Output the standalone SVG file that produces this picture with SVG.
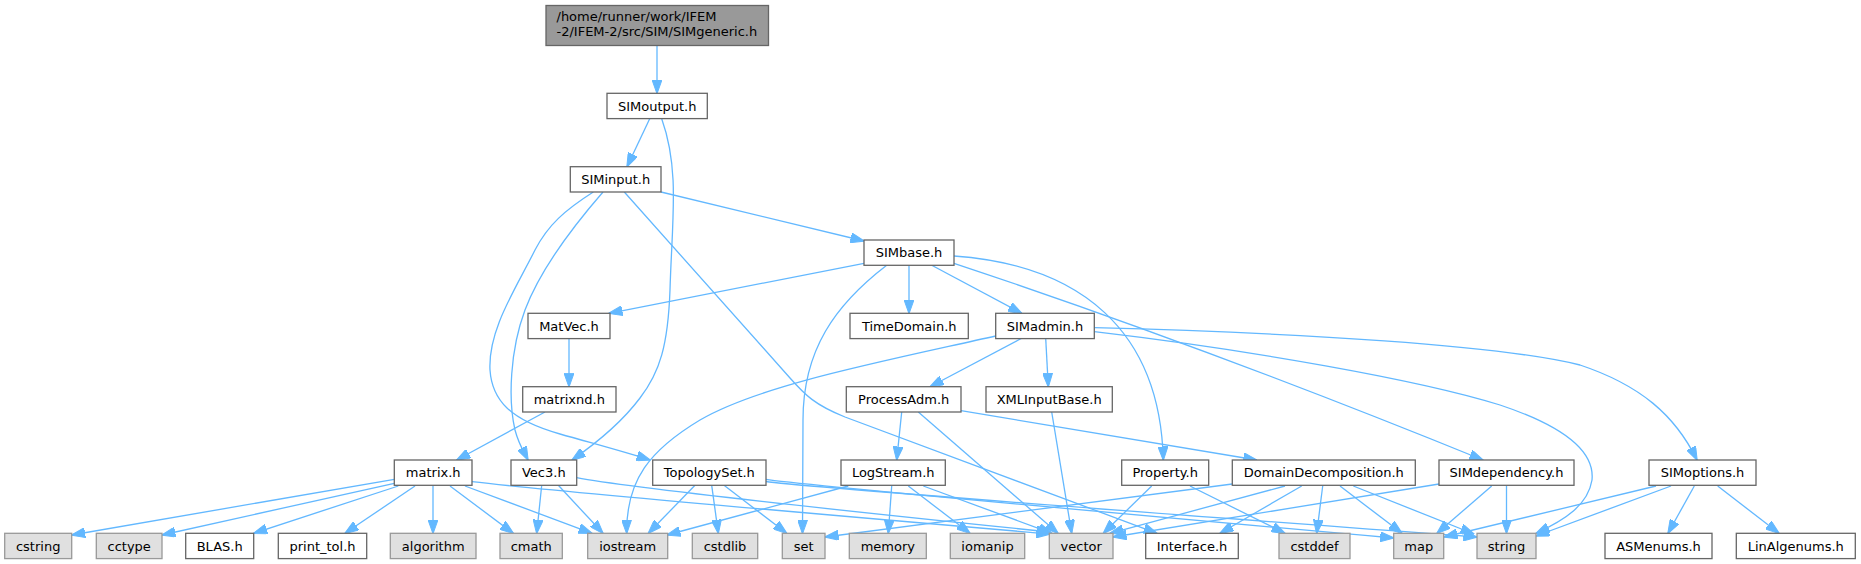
<svg xmlns="http://www.w3.org/2000/svg" width="1861" height="564" viewBox="0 0 1861 564">
<defs>
<marker id="ah" markerUnits="userSpaceOnUse" markerWidth="14" markerHeight="10" viewBox="0 0 14 10" refX="13.5" refY="5" orient="auto">
<path d="M0,0 L14,5 L0,10 z" fill="#63b8ff" stroke="#63b8ff" stroke-width="1"/>
</marker>
<style>
.e{fill:none;stroke:#63b8ff;stroke-width:1.3;marker-end:url(#ah)}
.w{fill:#ffffff;stroke:#666666;stroke-width:1.3}
.g{fill:#e0e0e0;stroke:#999999;stroke-width:1.3}
.r{fill:#999999;stroke:#666666;stroke-width:1.3}
text{font-family:"DejaVu Sans","Liberation Sans",sans-serif;font-size:13px;fill:#000000}
.c{text-anchor:middle}
</style>
</defs>
<rect width="1861" height="564" fill="#ffffff"/>
<g id="edges">
<path class="e" d="M657,45.5 L657,93.3"/>
<path class="e" d="M649.7,118.7 L627,166.7"/>
<path class="e" d="M661.7,118.7 C680,170 672,220 670,290 C668,345 660,372 640,398 C622,422 598,442 572,460"/>
<path class="e" d="M661,192 L864,241"/>
<path class="e" d="M593.3,192 C565,210 548,225 535,250 C515,290 488,330 490,370 C492,400 510,420 560,434 C595,444 625,452 650,460"/>
<path class="e" d="M603,192 C570,230 540,270 525,310 C510,350 508,400 515,430 C519,445 524,452 528,460"/>
<path class="e" d="M624.3,192 L790,378 C805,395 815,405 845,417 L1157,533.3"/>
<path class="e" d="M864,263.3 L609,313.3"/>
<path class="e" d="M909,265.3 L909,313.3"/>
<path class="e" d="M931.7,265.3 L1021.7,313.3"/>
<path class="e" d="M954,256 C1080,265 1160,330 1163.3,460"/>
<path class="e" d="M954,263.3 Q1200,345 1483,460"/>
<path class="e" d="M886.7,265.3 C835,305 803,350 803,420 L802.5,533.3"/>
<path class="e" d="M1021.7,338.3 L930,386.7"/>
<path class="e" d="M1045.7,338.3 L1048.3,386.7"/>
<path class="e" d="M995.7,336 C880,362 760,385 700,420 C650,450 626,480 626.7,533.3"/>
<path class="e" d="M1094.3,331.7 C1250,350 1420,380 1500,405 C1560,425 1595,450 1592,480 C1588,505 1565,520 1536,533.3"/>
<path class="e" d="M1094.3,327.7 C1300,333 1500,345 1580,365 C1640,385 1675,415 1697,460"/>
<path class="e" d="M569,338.3 L569,386.7"/>
<path class="e" d="M545,412 L456.7,460"/>
<path class="e" d="M901.7,412 L896.7,460"/>
<path class="e" d="M961,410.7 L1256.7,460"/>
<path class="e" d="M918.3,412 L1058,533.3"/>
<path class="e" d="M1051.7,412 L1071.7,533.3"/>
<path class="e" d="M394.3,479.3 L71.7,535"/>
<path class="e" d="M394.3,483.3 L162,535"/>
<path class="e" d="M398.3,486 L253.7,533.3"/>
<path class="e" d="M415,486 L345,533.3"/>
<path class="e" d="M433,486 L433,533.3"/>
<path class="e" d="M450,486 L513.3,533.3"/>
<path class="e" d="M465,486 L592,533.3"/>
<path class="e" d="M472,481.7 Q560,492 1050,534"/>
<path class="e" d="M541.7,485.3 L536.7,533.3"/>
<path class="e" d="M558.3,485.3 L603,533.3"/>
<path class="e" d="M576.7,477.7 Q640,490 1050,532"/>
<path class="e" d="M695,485.3 L648.3,533.3"/>
<path class="e" d="M711.7,485.3 L718.3,533.3"/>
<path class="e" d="M724,485.3 L786.7,533.3"/>
<path class="e" d="M766,479.3 Q800,485 1393.7,538"/>
<path class="e" d="M766,481.5 Q800,487 1477,537"/>
<path class="e" d="M848.3,486 L667,535"/>
<path class="e" d="M891.7,486 L888.3,533.3"/>
<path class="e" d="M908.3,486 L970,533.3"/>
<path class="e" d="M923.3,486 L1052,533.3"/>
<path class="e" d="M1151.7,486 L1103.3,533.3"/>
<path class="e" d="M1190,486 L1285,533.3"/>
<path class="e" d="M1232.3,484 L825,537"/>
<path class="e" d="M1285,486 L1110,533.3"/>
<path class="e" d="M1301.7,486 L1220,533.3"/>
<path class="e" d="M1322.7,486 L1316.7,533.3"/>
<path class="e" d="M1340,486 L1402,533.3"/>
<path class="e" d="M1353.3,486 L1474,534"/>
<path class="e" d="M1439,484 L1113,537"/>
<path class="e" d="M1491.7,486 L1437,533.3"/>
<path class="e" d="M1506.5,485.3 L1506.5,533.3"/>
<path class="e" d="M1656,486 L1444,537"/>
<path class="e" d="M1671,486 L1536,536"/>
<path class="e" d="M1694.3,486 L1668,533.3"/>
<path class="e" d="M1717.7,486 L1779,533.3"/>
</g>
<g id="node-SIMgeneric"><rect class="r" x="546" y="5.5" width="222.5" height="40"/><text x="556.5" y="20.8">/home/runner/work/IFEM</text><text x="556.5" y="35.8">-2/IFEM-2/src/SIM/SIMgeneric.h</text></g>
<g id="node-SIMoutput"><rect class="w" x="607" y="93.3" width="100.3" height="25.3"/><text class="c" x="657.2" y="110.7">SIMoutput.h</text></g>
<g id="node-SIMinput"><rect class="w" x="570.3" y="166.7" width="90.7" height="25.3"/><text class="c" x="615.7" y="184">SIMinput.h</text></g>
<g id="node-SIMbase"><rect class="w" x="864" y="240" width="90" height="25.3"/><text class="c" x="909" y="257.3">SIMbase.h</text></g>
<g id="node-MatVec"><rect class="w" x="528" y="313.3" width="82" height="25.3"/><text class="c" x="569" y="330.7">MatVec.h</text></g>
<g id="node-TimeDomain"><rect class="w" x="850" y="313.3" width="118.3" height="25.3"/><text class="c" x="909.2" y="330.7">TimeDomain.h</text></g>
<g id="node-SIMadmin"><rect class="w" x="995.7" y="313.3" width="98.6" height="25.3"/><text class="c" x="1045" y="330.7">SIMadmin.h</text></g>
<g id="node-matrixnd"><rect class="w" x="522.7" y="386.7" width="93.3" height="25.3"/><text class="c" x="569.3" y="404">matrixnd.h</text></g>
<g id="node-ProcessAdm"><rect class="w" x="846.3" y="386.7" width="114.7" height="25.3"/><text class="c" x="903.7" y="404">ProcessAdm.h</text></g>
<g id="node-XMLInputBase"><rect class="w" x="986" y="386.7" width="126.3" height="25.3"/><text class="c" x="1049.2" y="404">XMLInputBase.h</text></g>
<g id="node-matrix"><rect class="w" x="394.3" y="460" width="77.7" height="25.3"/><text class="c" x="433.2" y="477.4">matrix.h</text></g>
<g id="node-Vec3"><rect class="w" x="511" y="460" width="65.7" height="25.3"/><text class="c" x="543.8" y="477.4">Vec3.h</text></g>
<g id="node-TopologySet"><rect class="w" x="652.7" y="460" width="113.3" height="25.3"/><text class="c" x="709.3" y="477.4">TopologySet.h</text></g>
<g id="node-LogStream"><rect class="w" x="841" y="460" width="104.3" height="25.3"/><text class="c" x="893.2" y="477.4">LogStream.h</text></g>
<g id="node-Property"><rect class="w" x="1121.7" y="460" width="87" height="25.3"/><text class="c" x="1165.2" y="477.4">Property.h</text></g>
<g id="node-DomainDecomposition"><rect class="w" x="1232.3" y="460" width="183" height="25.3"/><text class="c" x="1323.8" y="477.4">DomainDecomposition.h</text></g>
<g id="node-SIMdependency"><rect class="w" x="1439" y="460" width="135" height="25.3"/><text class="c" x="1506.5" y="477.4">SIMdependency.h</text></g>
<g id="node-SIMoptions"><rect class="w" x="1649" y="460" width="107" height="25.3"/><text class="c" x="1702.5" y="477.4">SIMoptions.h</text></g>
<g id="node-cstring"><rect class="g" x="4.7" y="533.3" width="67" height="25.3"/><text class="c" x="38.2" y="550.7">cstring</text></g>
<g id="node-cctype"><rect class="g" x="96.3" y="533.3" width="65.7" height="25.3"/><text class="c" x="129.2" y="550.7">cctype</text></g>
<g id="node-BLAS"><rect class="w" x="185.7" y="533.3" width="68" height="25.3"/><text class="c" x="219.7" y="550.7">BLAS.h</text></g>
<g id="node-print_tol"><rect class="w" x="278.3" y="533.3" width="88.4" height="25.3"/><text class="c" x="322.5" y="550.7">print_tol.h</text></g>
<g id="node-algorithm"><rect class="g" x="390.3" y="533.3" width="85.7" height="25.3"/><text class="c" x="433.2" y="550.7">algorithm</text></g>
<g id="node-cmath"><rect class="g" x="500" y="533.3" width="62.3" height="25.3"/><text class="c" x="531.2" y="550.7">cmath</text></g>
<g id="node-iostream"><rect class="g" x="587.7" y="533.3" width="80" height="25.3"/><text class="c" x="627.7" y="550.7">iostream</text></g>
<g id="node-cstdlib"><rect class="g" x="692.3" y="533.3" width="65.4" height="25.3"/><text class="c" x="725" y="550.7">cstdlib</text></g>
<g id="node-set"><rect class="g" x="782.3" y="533.3" width="42.7" height="25.3"/><text class="c" x="803.7" y="550.7">set</text></g>
<g id="node-memory"><rect class="g" x="849.3" y="533.3" width="77" height="25.3"/><text class="c" x="887.8" y="550.7">memory</text></g>
<g id="node-iomanip"><rect class="g" x="950.3" y="533.3" width="74.4" height="25.3"/><text class="c" x="987.5" y="550.7">iomanip</text></g>
<g id="node-vector"><rect class="g" x="1049.3" y="533.3" width="63.7" height="25.3"/><text class="c" x="1081.2" y="550.7">vector</text></g>
<g id="node-Interface"><rect class="w" x="1145.7" y="533.3" width="92.6" height="25.3"/><text class="c" x="1192" y="550.7">Interface.h</text></g>
<g id="node-cstddef"><rect class="g" x="1279" y="533.3" width="71" height="25.3"/><text class="c" x="1314.5" y="550.7">cstddef</text></g>
<g id="node-map"><rect class="g" x="1393.7" y="533.3" width="50" height="25.3"/><text class="c" x="1418.7" y="550.7">map</text></g>
<g id="node-string"><rect class="g" x="1477" y="533.3" width="59" height="25.3"/><text class="c" x="1506.5" y="550.7">string</text></g>
<g id="node-ASMenums"><rect class="w" x="1605" y="533.3" width="107" height="25.3"/><text class="c" x="1658.5" y="550.7">ASMenums.h</text></g>
<g id="node-LinAlgenums"><rect class="w" x="1736.3" y="533.3" width="119" height="25.3"/><text class="c" x="1795.8" y="550.7">LinAlgenums.h</text></g>
</svg>
